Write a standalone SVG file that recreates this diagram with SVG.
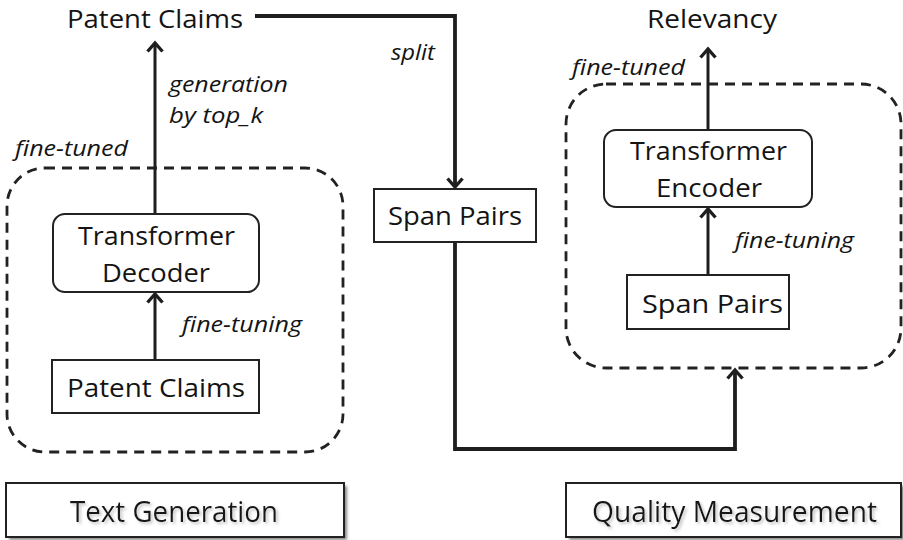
<svg xmlns="http://www.w3.org/2000/svg" width="903" height="540" viewBox="0 0 903 540">
  <defs>
    <style>
      .lbl{font-family:"Open Sans","Liberation Sans",sans-serif;font-size:26px;fill:#141414}
      .big{font-family:"Open Sans","Liberation Sans",sans-serif;font-size:29px;fill:#141414}
      .it{font-family:"Open Sans","Liberation Sans",sans-serif;font-style:italic;font-size:22.5px;fill:#141414}
      .box{fill:#fff;stroke:#222;stroke-width:2}
      .dash{fill:none;stroke:#222;stroke-width:2.8;stroke-dasharray:10 7}
      .conn{fill:none;stroke:#1e1e1e;stroke-linejoin:miter}
      .thick{stroke-width:3.8}
      .thin{stroke-width:3}
      .shadow{fill:#888;stroke:none}
    </style>
    <marker id="arr" markerUnits="userSpaceOnUse" viewBox="-12 -10 14 20" markerWidth="14" markerHeight="20" refX="0" refY="0" orient="auto" overflow="visible">
      <path d="M-8.5,-7.5 L0,0 L-8.5,7.5" fill="none" stroke="#1e1e1e" stroke-width="3.4"/>
    </marker>
    <filter id="blur" x="-10%" y="-40%" width="120%" height="180%">
      <feGaussianBlur stdDeviation="1.6"/>
    </filter>
    <!-- soft grey drop shadow behind caption text -->
    <filter id="textshadow" x="-10%" y="-40%" width="120%" height="180%">
      <feOffset in="SourceAlpha" dx="2" dy="2" result="off"/>
      <feGaussianBlur in="off" stdDeviation="1.6" result="b"/>
      <feColorMatrix in="b" type="matrix" values="0 0 0 0 0.45  0 0 0 0 0.45  0 0 0 0 0.45  0 0 0 0.8 0" result="sh"/>
      <feMerge><feMergeNode in="sh"/><feMergeNode in="SourceGraphic"/></feMerge>
    </filter>
  </defs>

  <!-- dashed group frames -->
  <g id="frame-generation">
    <rect class="dash" x="7" y="168" width="336" height="284" rx="38"/>
    <text class="it" x="15" y="156" textLength="113" lengthAdjust="spacingAndGlyphs">fine-tuned</text>
  </g>
  <g id="frame-quality">
    <rect class="dash" x="566" y="84" width="335" height="284" rx="40"/>
    <text class="it" x="572" y="75" textLength="113" lengthAdjust="spacingAndGlyphs">fine-tuned</text>
  </g>

  <!-- connectors -->
  <g id="connectors">
    <path class="conn thick" d="M255,16 H455 V187" marker-end="url(#arr)"/>
    <path class="conn thick" d="M455,242 V449 H735 V370" marker-end="url(#arr)"/>
    <path class="conn thin" d="M155,213 V43" marker-end="url(#arr)"/>
    <path class="conn thin" d="M155,360 V294" marker-end="url(#arr)"/>
    <path class="conn thin" d="M708,130 V49" marker-end="url(#arr)"/>
    <path class="conn thin" d="M708,275 V209" marker-end="url(#arr)"/>
    <text class="it" x="391" y="60" textLength="44" lengthAdjust="spacingAndGlyphs">split</text>
    <text class="it" x="169" y="92" textLength="119" lengthAdjust="spacingAndGlyphs">generation</text>
    <text class="it" x="169" y="123" textLength="94" lengthAdjust="spacingAndGlyphs">by top_k</text>
    <text class="it" x="182" y="332" textLength="120" lengthAdjust="spacingAndGlyphs">fine-tuning</text>
    <text class="it" x="735" y="248" textLength="119" lengthAdjust="spacingAndGlyphs">fine-tuning</text>
  </g>

  <!-- nodes -->
  <g id="patent-claims-out">
    <text class="lbl" x="67" y="28" textLength="176" lengthAdjust="spacingAndGlyphs">Patent Claims</text>
  </g>
  <g id="relevancy">
    <text class="lbl" x="647" y="28" textLength="130" lengthAdjust="spacingAndGlyphs">Relevancy</text>
  </g>
  <g id="transformer-decoder">
    <rect class="box" x="53" y="214" width="206" height="78" rx="12"/>
    <text class="lbl" x="78" y="245" textLength="157" lengthAdjust="spacingAndGlyphs">Transformer</text>
    <text class="lbl" x="102" y="282" textLength="108" lengthAdjust="spacingAndGlyphs">Decoder</text>
  </g>
  <g id="patent-claims-in">
    <rect class="box" x="52" y="360" width="207" height="53"/>
    <text class="lbl" x="67" y="397" textLength="178" lengthAdjust="spacingAndGlyphs">Patent Claims</text>
  </g>
  <g id="span-pairs-mid">
    <rect class="box" x="374" y="189" width="162" height="53"/>
    <text class="lbl" x="388" y="225" textLength="134" lengthAdjust="spacingAndGlyphs">Span Pairs</text>
  </g>
  <g id="transformer-encoder">
    <rect class="box" x="604" y="130" width="208" height="77" rx="12"/>
    <text class="lbl" x="630" y="160" textLength="157" lengthAdjust="spacingAndGlyphs">Transformer</text>
    <text class="lbl" x="656" y="197" textLength="106" lengthAdjust="spacingAndGlyphs">Encoder</text>
  </g>
  <g id="span-pairs-right">
    <rect class="box" x="627" y="275" width="162" height="54"/>
    <text class="lbl" x="642" y="313" textLength="141" lengthAdjust="spacingAndGlyphs">Span Pairs</text>
  </g>

  <!-- section captions -->
  <g id="caption-text-generation">
    <rect class="shadow" x="9" y="486" width="338" height="54" filter="url(#blur)"/>
    <rect class="box" x="6" y="483" width="338" height="54"/>
    <text class="big" x="70" y="522" textLength="208" lengthAdjust="spacingAndGlyphs" filter="url(#textshadow)">Text Generation</text>
  </g>
  <g id="caption-quality-measurement">
    <rect class="shadow" x="569" y="486" width="336" height="54" filter="url(#blur)"/>
    <rect class="box" x="566" y="483" width="335" height="54"/>
    <text class="big" x="592" y="522" textLength="285" lengthAdjust="spacingAndGlyphs" filter="url(#textshadow)">Quality Measurement</text>
  </g>
</svg>
